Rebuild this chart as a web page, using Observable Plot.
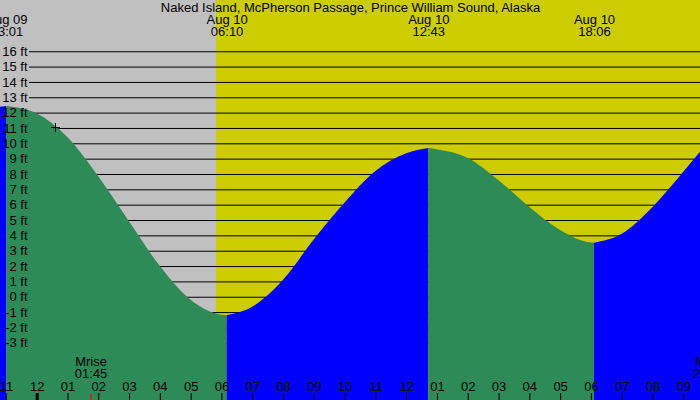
<!DOCTYPE html>
<html><head><meta charset="utf-8">
<script src="https://cdn.jsdelivr.net/npm/d3@7"></script>
<script src="https://cdn.jsdelivr.net/npm/@observablehq/plot@0.6"></script>
<style>html,body{margin:0;padding:0;background:#fff;} svg{display:block}</style>
</head><body><div id="chart"></div>
<script>
const title = "Naked Island, McPherson Passage, Prince William Sound, Alaska";
// hours since Aug 10 00:00 and predicted heights (ft)
const tideHours = [-1.192, -0.983, 0, 1, 2, 3, 4, 5, 6, 6.167, 7, 8, 9, 10, 11, 12, 12.717, 13, 14, 15, 16, 17, 18, 18.1, 19, 20, 21, 21.543];
const tideFeet  = [12.38, 12.43, 11.95, 10.4, 7.85, 4.9, 2.0, -0.2, -1.17, -1.2, -0.65, 1.1, 3.75, 6.15, 8.2, 9.35, 9.7, 9.62, 9.05, 7.6, 5.85, 4.35, 3.53, 3.52, 4.1, 5.85, 8.15, 9.45];
const extremeHours = [-0.983, 6.167, 12.717, 18.1];
const extremeLabels = ["Aug 09\n23:01", "Aug 10\n06:10", "Aug 10\n12:43", "Aug 10\n18:06"];
const gridFeet = d3.range(-3, 17);
const hourTicks = d3.range(-1, 22);
const hourLabels = ["11","12","01","02","03","04","05","06","07","08","09","10","11","12","01","02","03","04","05","06","07","08","09"];
const sunriseHour = 5.823;
const moonHours = [1.75, 21.82];
const moonLabels = ["Mrise\n01:45", "Mset\n21:49"];
const nowHour = 0.594;
const nowFeet = 11.06;
const xWindow = [-1.192, 21.543];
const yWindow = [-6.73, 19.34];

// split the curve into rising / falling segments between extremes
const bounds = [tideHours[0], ...extremeHours, tideHours[tideHours.length - 1]];
const rows = [];
for (let s = 0; s < bounds.length - 1; s++) {
  const a = bounds[s], b = bounds[s + 1];
  const pts = tideHours.map((h, i) => ({h, ft: tideFeet[i]})).filter(p => p.h >= a - 1e-9 && p.h <= b + 1e-9);
  if (pts.length < 2) continue;
  const phase = pts[pts.length - 1].ft > pts[0].ft ? "rising" : "falling";
  pts.forEach(p => rows.push({...p, seg: s, phase}));
}

const plusSymbol = {
  draw(ctx, size) {
    const r = Math.sqrt(size / Math.PI);
    ctx.moveTo(-r, 0); ctx.lineTo(r, 0);
    ctx.moveTo(0, -r); ctx.lineTo(0, r);
  }
};

const chart = Plot.plot({
  width: 700, height: 400, margin: 0,
  x: {domain: xWindow, axis: null},
  y: {domain: yWindow, axis: null},
  color: {domain: ["falling", "rising"], range: ["#2e8b57", "#0000ff"]},
  style: {fontFamily: "'Liberation Sans', Arial, sans-serif", fontSize: "13px", background: "#cccc00", color: "black", overflow: "hidden"},
  marks: [
    Plot.rect([{start: xWindow[0], end: sunriseHour}], {x1: "start", x2: "end", fill: "#c0c0c0"}),
    Plot.ruleY(gridFeet, {y: d => d, stroke: "black", strokeWidth: 1, insetLeft: 29}),
    Plot.areaY(rows, {x: "h", y1: yWindow[0], y2: "ft", z: "seg", fill: "phase", curve: "monotone-x"}),
    Plot.text(gridFeet, {y: d => d, text: d => `${d} ft`, frameAnchor: "left", textAnchor: "end", dx: 27, fill: "black"}),
    Plot.text([title], {text: d => d, frameAnchor: "top", lineAnchor: "top", dy: 2.5, fill: "black"}),
    Plot.text(extremeHours, {x: d => d, text: (d, i) => extremeLabels[i], frameAnchor: "top", lineAnchor: "top", lineHeight: 0.923, dy: 14.8, fill: "black"}),
    Plot.tickX(hourTicks, {x: d => d, insetTop: 393, stroke: "black", strokeWidth: d => d === 0 ? 3 : 1}),
    Plot.text(hourTicks, {x: d => d, text: (d, i) => hourLabels[i], frameAnchor: "bottom", lineAnchor: "bottom", dy: -10, fill: "black"}),
    Plot.tickX(moonHours, {x: d => d, insetTop: 393, stroke: "red"}),
    Plot.text(moonHours, {x: d => d, text: (d, i) => moonLabels[i], frameAnchor: "bottom", lineAnchor: "bottom", lineHeight: 0.923, dy: -23, fill: "black"}),
    Plot.dot([{h: nowHour, ft: nowFeet}], {x: "h", y: "ft", symbol: plusSymbol, r: 4.5, stroke: "black", fill: "none", strokeWidth: 1})
  ]
});
document.getElementById("chart").appendChild(chart);
</script>
</body></html>
